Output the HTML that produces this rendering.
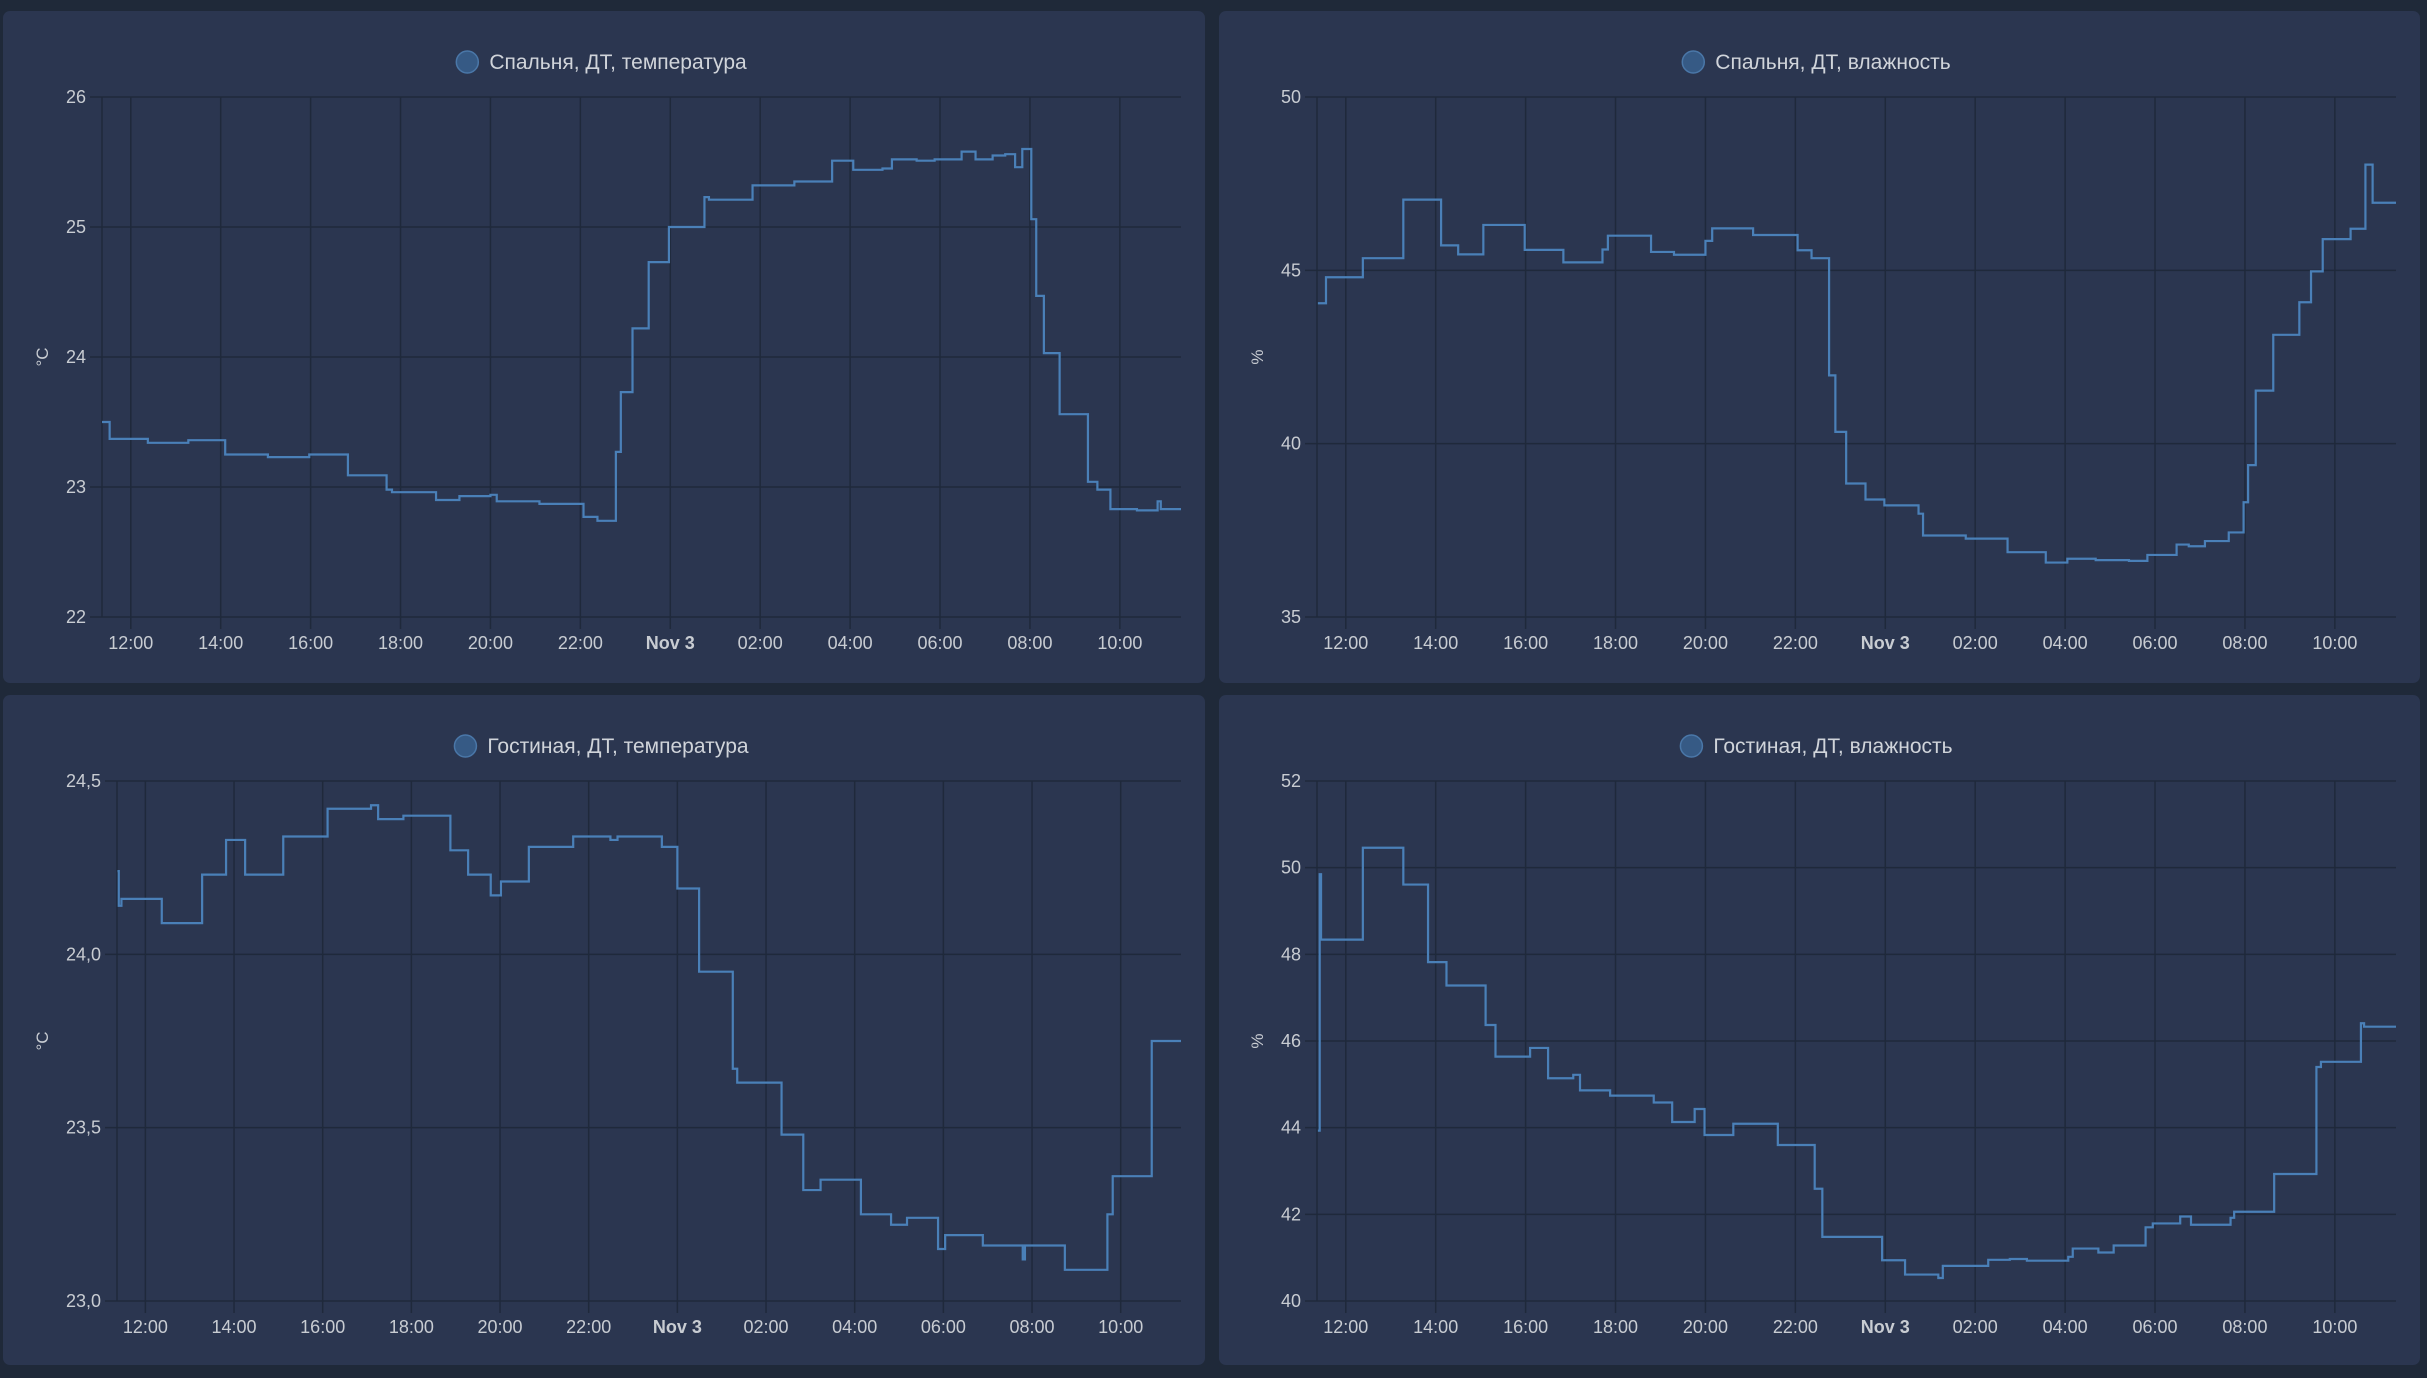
<!DOCTYPE html>
<html><head><meta charset="utf-8">
<style>
html,body{margin:0;padding:0;background:#1f2939;}
body{width:2427px;height:1378px;overflow:hidden;position:relative;font-family:"Liberation Sans",sans-serif;}
.panel{position:absolute;background:#2b3650;border-radius:7px;}
svg{position:absolute;left:0;top:0;}
</style></head>
<body>
<div class="panel" style="left:3px;top:11px;width:1202px;height:672px"></div>
<div class="panel" style="left:1219px;top:11px;width:1201px;height:672px"></div>
<div class="panel" style="left:3px;top:695px;width:1202px;height:670px"></div>
<div class="panel" style="left:1219px;top:695px;width:1201px;height:670px"></div>
<svg id="chart" width="2427" height="1378" xmlns="http://www.w3.org/2000/svg"></svg>
<script>
// x tick labels (hours since midnight Nov 2)
const xTickHours = [12,14,16,18,20,22,24,26,28,30,32,34];
const xTickLabels = ["12:00","14:00","16:00","18:00","20:00","22:00","Nov 3","02:00","04:00","06:00","08:00","10:00"];
const xDomain = [11.36, 35.36];

// Chart 1: bedroom temperature
const c1Titles = "Спальня, ДТ, температура";
const c1Times = [11.36,11.43,11.53,12.38,13.28,14.10,15.05,15.97,16.83,17.69,17.81,18.79,19.31,20.0,20.14,21.09,22.07,22.38,22.79,22.90,23.16,23.52,23.97,24.76,24.86,25.83,26.76,27.60,28.07,28.72,28.93,29.48,29.88,30.48,30.79,31.17,31.45,31.67,31.83,32.03,32.14,32.31,32.66,33.29,33.50,33.79,34.38,34.71,34.84,34.91];
const c1Values = [23.5,23.5,23.37,23.34,23.36,23.25,23.23,23.25,23.09,22.98,22.96,22.90,22.93,22.94,22.89,22.87,22.77,22.74,23.27,23.73,24.22,24.73,25.0,25.23,25.21,25.32,25.35,25.51,25.44,25.45,25.52,25.51,25.52,25.58,25.52,25.55,25.56,25.46,25.60,25.06,24.47,24.03,23.56,23.04,22.98,22.83,22.82,22.82,22.89,22.83];
const c1Ticks = [22,23,24,25,26];
const c1TickLabels = ["22","23","24","25","26"];

// Chart 2: bedroom humidity
const c2Titles = "Спальня, ДТ, влажность";
const c2Times = [11.38,11.40,11.56,12.38,13.28,14.12,14.50,15.06,15.98,16.84,17.71,17.83,18.79,19.30,20.0,20.15,21.06,22.05,22.36,22.75,22.89,23.13,23.56,23.98,24.74,24.84,25.79,26.72,27.57,28.05,28.68,29.42,29.83,30.48,30.75,31.11,31.64,31.97,32.07,32.24,32.63,33.21,33.47,33.73,34.35,34.68,34.84];
const c2Values = [44.05,44.05,44.8,45.35,47.04,45.72,45.46,46.31,45.59,45.23,45.6,46.0,45.53,45.45,45.85,46.21,46.02,45.58,45.35,41.97,40.34,38.85,38.39,38.22,37.98,37.35,37.26,36.87,36.57,36.68,36.64,36.62,36.79,37.09,37.04,37.19,37.44,38.31,39.38,41.53,43.14,44.08,44.97,45.9,46.2,48.05,46.95];
const c2Ticks = [35,40,45,50];
const c2TickLabels = ["35","40","45","50"];

// Chart 3: living room temperature
const c3Titles = "Гостиная, ДТ, температура";
const c3Times = [11.37,11.40,11.46,12.37,13.28,13.82,14.25,15.11,16.11,17.09,17.25,17.82,18.88,19.28,19.79,20.02,20.65,21.65,22.49,22.65,23.65,24.0,24.49,25.25,25.35,26.35,26.84,27.23,28.14,28.82,29.18,29.88,30.04,30.89,31.79,31.84,32.74,33.70,33.82,34.70];
const c3Values = [24.24,24.14,24.16,24.09,24.23,24.33,24.23,24.34,24.42,24.43,24.39,24.40,24.30,24.23,24.17,24.21,24.31,24.34,24.33,24.34,24.31,24.19,23.95,23.67,23.63,23.48,23.32,23.35,23.25,23.22,23.24,23.15,23.19,23.16,23.12,23.16,23.09,23.25,23.36,23.75];
const c3Ticks = [23.0,23.5,24.0,24.5];
const c3TickLabels = ["23,0","23,5","24,0","24,5"];

// Chart 4: living room humidity
const c4Titles = "Гостиная, ДТ, влажность";
const c4Times = [11.38,11.42,11.45,12.38,13.28,13.83,14.24,15.11,15.33,16.10,16.50,17.06,17.21,17.88,18.85,19.26,19.76,19.98,20.62,21.61,22.43,22.60,23.93,24.44,25.18,25.28,26.29,26.77,27.15,28.07,28.17,28.74,29.08,29.79,29.95,30.56,30.80,31.68,31.76,32.65,33.59,33.69,34.58,34.65];
const c4Values = [43.93,49.85,48.34,50.46,49.61,47.82,47.28,46.37,45.64,45.84,45.14,45.22,44.86,44.74,44.58,44.13,44.43,43.83,44.09,43.60,42.59,41.48,40.94,40.61,40.53,40.81,40.95,40.97,40.93,41.02,41.21,41.12,41.28,41.70,41.79,41.95,41.76,41.92,42.06,42.93,45.40,45.52,46.41,46.33];
const c4Ticks = [40,42,44,46,48,50,52];
const c4TickLabels = ["40","42","44","46","48","50","52"];

const NS = "http://www.w3.org/2000/svg";
const svg = document.getElementById('chart');
function mk(tag, attrs, parent){
  const e = document.createElementNS(NS, tag);
  for (const k in attrs) e.setAttribute(k, attrs[k]);
  (parent||svg).appendChild(e);
  return e;
}

function drawChart(cfg){
  const g = mk('g', {});
  
  
  const L = cfg.ox + cfg.left, R = cfg.ox + 1181, T = cfg.oy + 97, B = cfg.oy + 617;
  const yMin = cfg.ticks[0], yMax = cfg.ticks[cfg.ticks.length-1];
  const xs = h => L + (h - xDomain[0]) / (xDomain[1]-xDomain[0]) * (R - L);
  const ys = v => B - (v - yMin) / (yMax - yMin) * (B - T);

  const tg = mk('g', {}, g);
  
  
  const tx = mk('text', {x: 0, y: cfg.oy + 69, fill: '#d0d4da', 'font-size': 21, 'font-family': '"Liberation Sans","Noto Sans CJK SC",sans-serif'}, tg);
  tx.textContent = cfg.title;
  
  
  const w = tx.getComputedTextLength();
  const center = cfg.ox + 601;
  const startX = center - (w + 34) / 2;
  tx.setAttribute('x', startX + 34);
  const dot = mk('circle', {cx: startX + 12, cy: cfg.oy + 62, r: 11, fill: '#365a85', stroke: '#4a77a8', 'stroke-width': 1.5}, tg);
  
  

  cfg.ticks.forEach((t, i) => {
    const y = ys(t);
    const ln = mk('line', {x1: L - 12, x2: R, y1: y, y2: y, stroke: '#1f293b', 'stroke-width': 1.5}, g);
    
    
    const lb = mk('text', {x: L - 16, y: y + 6, fill: '#c8ccd2', 'font-size': 18, 'text-anchor': 'end'}, g);
    lb.textContent = cfg.tickLabels[i];
    
    
  });
  const ax = mk('line', {x1: L, x2: L, y1: T, y2: B, stroke: '#1f293b', 'stroke-width': 1.5}, g);
  
  
  xTickHours.forEach((h, i) => {
    const x = xs(h);
    const ln = mk('line', {x1: x, x2: x, y1: T, y2: B + 12, stroke: '#1f293b', 'stroke-width': 1.5}, g);
    
    
    const lb = mk('text', {x: x, y: cfg.oy + 649, fill: '#c8ccd2', 'font-size': 18, 'text-anchor': 'middle', 'font-weight': xTickLabels[i] === 'Nov 3' ? 'bold' : 'normal'}, g);
    lb.textContent = xTickLabels[i];
    
    
  });
  const yt = mk('text', {x: 0, y: 0, fill: '#c8ccd2', 'font-size': 17, 'text-anchor': 'middle', transform: `translate(${cfg.ox + 48},${cfg.oy + 357}) rotate(-90)`}, g);
  yt.textContent = cfg.unit;
  
  

  let d = '';
  cfg.times.forEach((t, i) => {
    const x = xs(t), y = ys(cfg.values[i]);
    if (i === 0) d += `M${x},${y}`;
    else d += `H${x}V${y}`;
  });
  d += `H${R}`;
  const p = mk('path', {d: d, fill: 'none', stroke: '#4a80b8', 'stroke-width': 2.2}, g);
  
  
}

drawChart({name:'chart-bedroom-temperature', ox:0, oy:0, left:102, title:c1Titles, unit:'°C', times:c1Times, values:c1Values, ticks:c1Ticks, tickLabels:c1TickLabels});
drawChart({name:'chart-bedroom-humidity', ox:1215, oy:0, left:102, title:c2Titles, unit:'%', times:c2Times, values:c2Values, ticks:c2Ticks, tickLabels:c2TickLabels});
drawChart({name:'chart-living-temperature', ox:0, oy:684, left:117, title:c3Titles, unit:'°C', times:c3Times, values:c3Values, ticks:c3Ticks, tickLabels:c3TickLabels});
drawChart({name:'chart-living-humidity', ox:1215, oy:684, left:102, title:c4Titles, unit:'%', times:c4Times, values:c4Values, ticks:c4Ticks, tickLabels:c4TickLabels});
</script>
</body></html>
